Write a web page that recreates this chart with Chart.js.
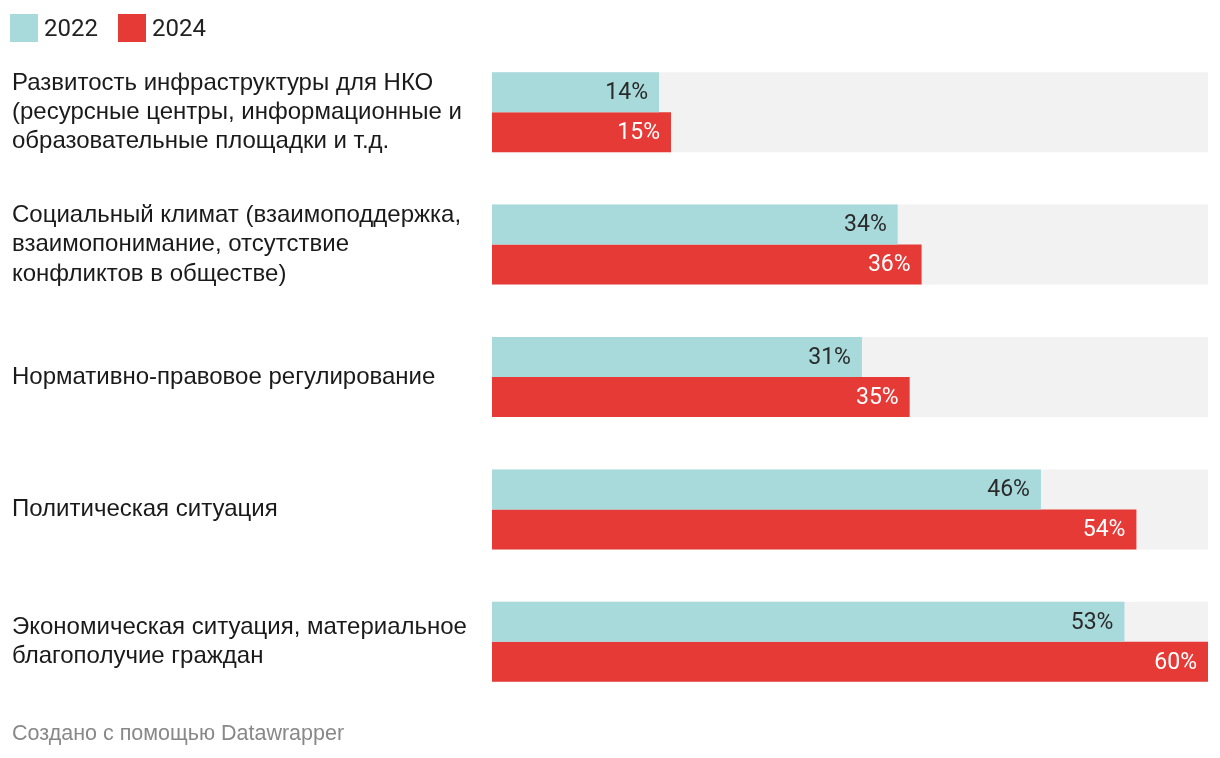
<!DOCTYPE html>
<html>
<head>
<meta charset="utf-8">
<script src="https://cdn.jsdelivr.net/npm/chart.js@4"></script>
<style>
  body { margin: 0; background: #fff; }
  #wrap { position: relative; width: 1220px; height: 758px; }
  #legend { position: absolute; left: 10px; top: 14px; font: 24px Roboto; color: #222; display: flex; }
  #legend span.item { display: flex; align-items: center; margin-right: 20px; }
  #legend span.box { width: 28px; height: 28px; margin-right: 6px; }
  #footer { position: absolute; left: 12px; top: 721px; font: 21.5px "Liberation Sans", Arial; color: #888; }
</style>
</head>
<body>
<div id="wrap">
  <canvas id="myChart" width="1220" height="758"></canvas>
  <div id="legend"></div>
  <div id="footer">Создано с помощью Datawrapper</div>
</div>
<script>
const categories = [
    ["Развитость инфраструктуры для НКО", "(ресурсные центры, информационные и", "образовательные площадки и т.д."],
    ["Социальный климат (взаимоподдержка,", "взаимопонимание, отсутствие", "конфликтов в обществе)"],
    ["Нормативно-правовое регулирование"],
    ["Политическая ситуация"],
    ["Экономическая ситуация, материальное", "благополучие граждан"]
]
const years = ["2022", "2024"]
const values2022 = [14, 34, 31, 46, 53]
const values2024 = [15, 36, 35, 54, 60]
const maxValue = 60
const background = categories.map(() => maxValue)

const colors = ["#a8dadc", "#e63a37"]

// legende html
const legend = document.querySelector("#legend")
years.forEach((y, i) => {
    legend.innerHTML += `<span class="item"><span class="box" style="background:${colors[i]}"></span>${y}</span>`
})

// etiquettes de valeur a l'interieur des barres
const barLabels = {
    id: "barLabels",
    afterDatasetsDraw(chart) {
        const ctx = chart.ctx
        ctx.save()
        ctx.font = "23px Roboto"
        ctx.textAlign = "right"
        ctx.textBaseline = "middle"
        for (let d = 0; d < 2; d++) {
            const meta = chart.getDatasetMeta(d)
            const data = chart.data.datasets[d].data
            meta.data.forEach((bar, i) => {
                ctx.fillStyle = d === 0 ? "#2a2a2a" : "#ffffff"
                ctx.fillText(data[i] + "%", bar.x - 11, bar.y + 1)
            })
        }
        ctx.restore()
    }
}

const data = {
    labels: categories,
    datasets: [
        { label: years[0], data: values2022, backgroundColor: colors[0], order: 0 },
        { label: years[1], data: values2024, backgroundColor: colors[1], order: 0 },
        { label: "fond", data: background, backgroundColor: "#f2f2f2", grouped: false, order: 1 }
    ]
}

const config = {
    type: "bar",
    data: data,
    options: {
        indexAxis: "y",
        responsive: false,
        animation: false,
        categoryPercentage: 0.604,
        barPercentage: 1,
        layout: { padding: { left: 12, right: 12, top: 46, bottom: 50 } },
        scales: {
            x: { display: false, min: 0, max: maxValue },
            y: {
                grid: { display: false },
                border: { display: false },
                afterFit: (scale) => { scale.width = 480 },
                ticks: {
                    crossAlign: "far",
                    color: "#1a1a1a",
                    font: { family: "'Liberation Sans', Arial", size: 24, lineHeight: 1.22 }
                }
            }
        },
        plugins: {
            legend: { display: false },
            tooltip: { enabled: false }
        }
    },
    plugins: [barLabels]
}

new Chart(document.querySelector("#myChart"), config)
</script>
</body>
</html>
